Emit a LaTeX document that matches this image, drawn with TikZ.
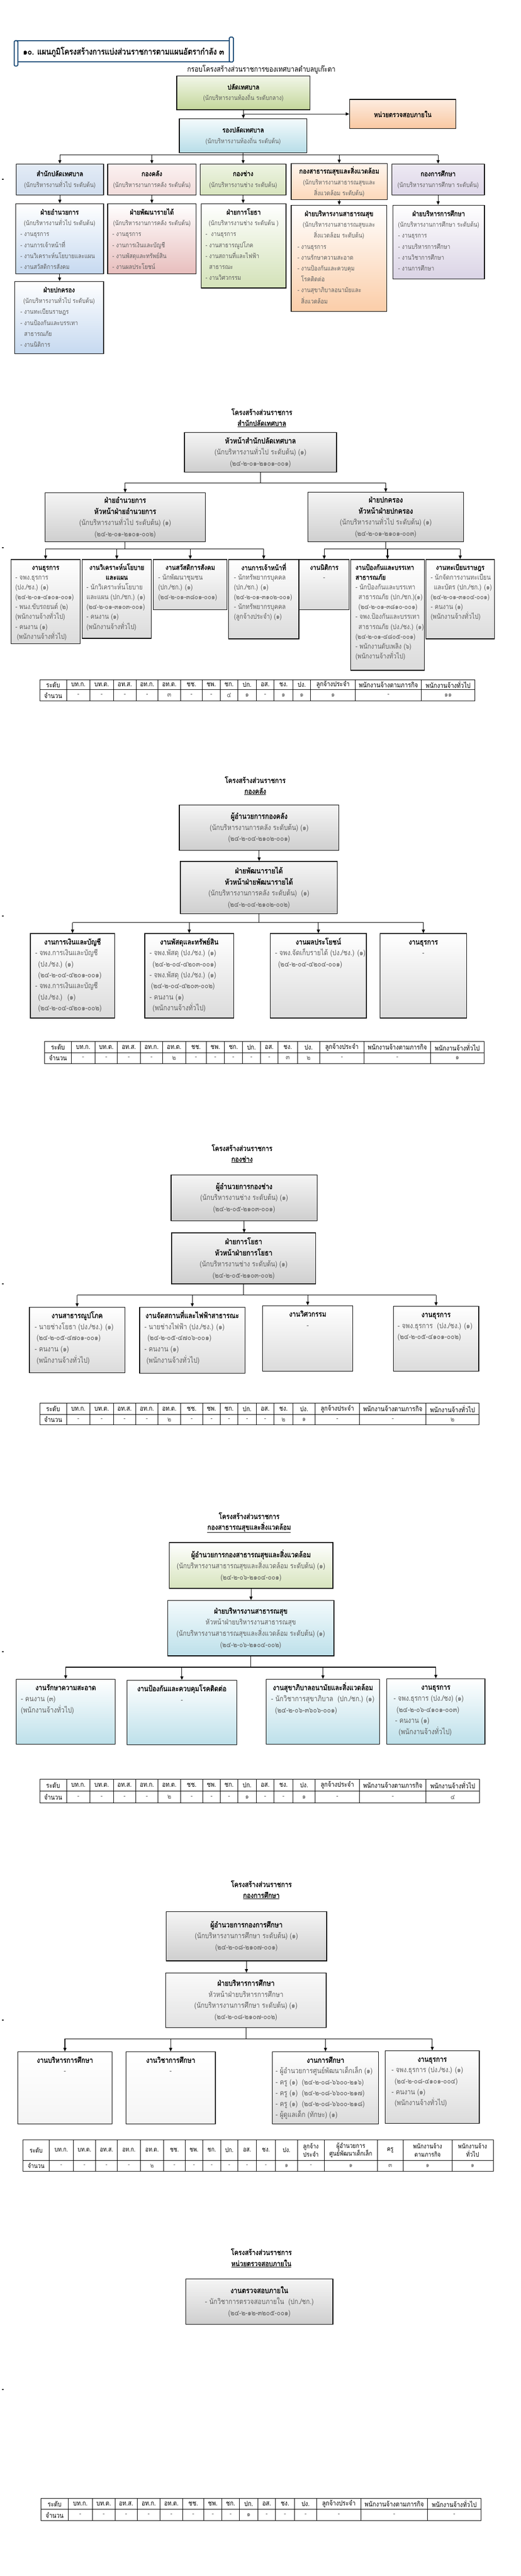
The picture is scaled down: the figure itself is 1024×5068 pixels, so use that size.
\documentclass[tikz,border=0pt]{standalone}
\usepackage{fontspec}
\setmainfont[Script=Thai,FakeStretch=0.85,AutoFakeBold=1.6]{Loma}
\usetikzlibrary{arrows.meta}
\definecolor{tb}{HTML}{1F4E79}
\definecolor{sub}{HTML}{5E5E5E}
\definecolor{plT}{HTML}{F1F6E8}\definecolor{plB}{HTML}{C4D79B}
\definecolor{auT}{HTML}{FDECE0}\definecolor{auB}{HTML}{F9C8A2}
\definecolor{rpT}{HTML}{F3FAFC}\definecolor{rpB}{HTML}{B7DDE8}
\definecolor{k1T}{HTML}{E4ECF6}\definecolor{k1B}{HTML}{D0DDEE}
\definecolor{k2T}{HTML}{FBF1F1}\definecolor{k2B}{HTML}{F2DCDB}
\definecolor{k3T}{HTML}{EEF4E3}\definecolor{k3B}{HTML}{D7E4BD}
\definecolor{k4T}{HTML}{FFF6EE}\definecolor{k4B}{HTML}{FCD8BA}
\definecolor{k5T}{HTML}{EEEAF3}\definecolor{k5B}{HTML}{DDD6E8}
\definecolor{f1B}{HTML}{C6D9F0}
\definecolor{f2B}{HTML}{E8BEBD}
\definecolor{f3B}{HTML}{D3E2B8}
\definecolor{f4B}{HTML}{FBCDA8}
\definecolor{f5B}{HTML}{DAD3E5}
\definecolor{bluB}{HTML}{BDE0EA}
\newdimen\topgap \newdimen\lsk
\def\FS{12}\def\LS{21.5}\def\TS{12}
\newcommand\mkFont[4]{\def\FS{#1}\def\LS{#2}\def\TS{#4}\lsk=#2pt\relax\topgap=\dimexpr#3pt-0.7\lsk\relax}
\newcommand\T[1]{{\fontsize{\TS}{\LS}\selectfont\bfseries\color{black}#1}}
\newcommand\Sb[1]{{\fontsize{\FS}{\LS}\selectfont\mdseries\color{sub}#1}}
\newcommand\mkBox[6]{%
 \pgfmathsetlengthmacro\bw{(#5-#3)*1pt}%
 \pgfmathsetlengthmacro\bh{(#6-#4)*1pt}%
 \node[bx,#2,minimum width=\bw,minimum height=\bh] (#1) at (#3,#4) {};}
\newcommand\mkCB[7]{%
 \pgfmathsetlengthmacro\bw{(#5-#3)*1pt}%
 \pgfmathsetlengthmacro\bh{(#6-#4)*1pt}%
 \node[bx,#2,minimum width=\bw,minimum height=\bh,align=center,font=\fontsize{\FS}{\LS}\selectfont,text=sub] (#1) at (#3,#4) {#7};}
\newcommand\mkTtl[2]{\node[ttl,anchor=north] (#1T) at ([yshift=-\topgap]#1.north) {\strut#2};}
\newcommand\mkBody[4]{\node[bdy,anchor=north west] (#1B) at ([xshift=#2pt,yshift={-\topgap-#3*\lsk}]#1.north west) {\strut#4};}
\newcommand\mkST[4]{\node[sect] (#1a) at (#2,#3) {โครงสร้างส่วนราชการ};
 \node[sect] (#1b) at (#2,{#3+23}) {\underline{#4}};}
\newcommand\mkTable[8]{%
 \draw[tbl] (#3,#5) rectangle (#4,#7);
 \draw[tbl] (#3,#6) -- (#4,#6);
 \foreach \xx in {#2} {\draw[tbl] (\xx,#5) -- (\xx,#7);}
 \foreach \hh/\vv [count=\ii from 0] in {#8} {%
   \pgfmathsetmacro\xa{{#2}[\ii]}%
   \pgfmathsetmacro\xb{{#2}[\ii+1]}%
   \node[thead] (#1h\ii) at ({(\xa+\xb)/2},{(#5+#6)/2}) {\hh};
   \node[tval] (#1v\ii) at ({(\xa+\xb)/2},{(#6+#7)/2}) {\vv};
 }}
\begin{document}
\begin{tikzpicture}[x=1pt,y=-1pt,
 bx/.style={draw=black,line width=1.4pt,inner sep=0pt,anchor=north west},
 ln/.style={line width=1.1pt},
 arr/.style={line width=1.1pt,-{Triangle[width=6pt,length=7pt]}},
 ttl/.style={inner sep=0pt,align=center,font=\fontsize{\TS}{\LS}\selectfont\bfseries,text=black},
 bdy/.style={inner sep=0pt,align=left,font=\fontsize{\FS}{\LS}\selectfont,text=sub},
 sect/.style={inner sep=0pt,font=\fontsize{14.4}{17}\selectfont\bfseries},
 tbl/.style={line width=0.9pt},
 thead/.style={inner sep=0pt,align=center,font=\fontsize{13.5}{15}\selectfont,text=black},
 tval/.style={inner sep=0pt,font=\fontsize{13.5}{15}\selectfont,text=sub},
 hdrgray/.style={top color=gray!8,bottom color=gray!38},
 chgray/.style={top color=white,bottom color=gray!28},
]
\useasboundingbox (0,0) rectangle (1024,5068);
\fill[white] (0,0) rectangle (1024,5068);
\foreach \yy in {352,1076,1801,2525,3249,3973,4700} \fill (4,\yy) rectangle (7,\yy+2);

% ================= SECTION 1 =================
\draw[tb,line width=2pt,fill=white] (34,80) rectangle (451,122);
\draw[tb,line width=2pt,fill=white,rounded corners=2pt] (28,80) rectangle (35,130);
\draw[tb,line width=2pt,fill=white,rounded corners=2pt] (451,73) rectangle (459,122);
\node[anchor=west,inner sep=0pt,font=\fontsize{16.7}{19}\selectfont\bfseries] (maintitle) at (45,102) {๑๐. แผนภูมิโครงสร้างการแบ่งส่วนราชการตามแผนอัตรากำลัง ๓};
\node[inner sep=0pt,font=\fontsize{14.8}{17}\selectfont] (frame) at (514,137) {กรอบโครงสร้างส่วนราชการของเทศบาลตำบลบูเก๊ะตา};

\mkFont{12.7}{21.5}{22}{13.8}
\mkCB{pl}{top color=plT,bottom color=plB}{347}{149}{609}{215}{\T{ปลัดเทศบาล}\\(นักบริหารงานท้องถิ่น ระดับกลาง)}
\mkCB{au}{top color=auT,bottom color=auB}{687}{195}{896}{252}{\T{หน่วยตรวจสอบภายใน}}
\mkCB{rp}{top color=rpT,bottom color=rpB}{352}{233}{603}{300}{\T{รองปลัดเทศบาล}\\(นักบริหารงานท้องถิ่น ระดับต้น)}

\mkCB{k1}{top color=k1T,bottom color=k1B}{31}{322}{203}{383}{\T{สำนักปลัดเทศบาล}\\(นักบริหารงานทั่วไป ระดับต้น)}
\mkCB{k2}{top color=k2T,bottom color=k2B}{211}{322}{385}{383}{\T{กองคลัง}\\(นักบริหารงานการคลัง ระดับต้น)}
\mkCB{k3}{top color=k3T,bottom color=k3B}{393}{322}{562}{383}{\T{กองช่าง}\\(นักบริหารงานช่าง ระดับต้น)}
\mkCB{k4}{top color=k4T,bottom color=k4B}{572}{321}{761}{392}{\T{กองสาธารณสุขและสิ่งแวดล้อม}\\(นักบริหารงานสาธารณสุขและ\\สิ่งแวดล้อม ระดับต้น)}
\mkCB{k5}{top color=k5T,bottom color=k5B}{770}{322}{952}{383}{\T{กองการศึกษา}\\(นักบริหารงานการศึกษา ระดับต้น)}

\mkBox{f1}{top color=white,bottom color=f1B}{30}{400}{203}{538}
\mkTtl{f1}{ฝ่ายอำนวยการ\\\Sb{(นักบริหารงานทั่วไป ระดับต้น)}}
\mkBody{f1}{10}{2}{- งานธุรการ\\- งานการเจ้าหน้าที่\\- งานวิเคราะห์นโยบายและแผน\\- งานสวัสดิการสังคม}
\mkBox{f2}{top color=white,bottom color=f2B}{211}{400}{385}{538}
\mkTtl{f2}{ฝ่ายพัฒนารายได้\\\Sb{(นักบริหารงานการคลัง ระดับต้น)}}
\mkBody{f2}{10}{2}{- งานธุรการ\\- งานการเงินและบัญชี\\- งานพัสดุและทรัพย์สิน\\- งานผลประโยชน์}
\mkBox{f3}{top color=white,bottom color=f3B}{395}{400}{562}{566}
\mkTtl{f3}{ฝ่ายการโยธา\\\Sb{(นักบริหารงานช่าง ระดับต้น )}}
\mkBody{f3}{9}{2}{-~ งานธุรการ\\- งานสาธารณูปโภค\\- งานสถานที่และไฟฟ้า\\\phantom{- }สาธารณะ\\- งานวิศวกรรม}
\mkBox{f4}{top color=white,bottom color=f4B}{572}{403}{760}{612}
\mkTtl{f4}{ฝ่ายบริหารงานสาธารณสุข\\\Sb{(นักบริหารงานสาธารณสุขและ}\\\Sb{สิ่งแวดล้อม ระดับต้น)}}
\mkBody{f4}{13}{3}{- งานธุรการ\\- งานรักษาความสะอาด\\- งานป้องกันและควบคุม\\\phantom{- }โรคติดต่อ\\- งานสุขาภิบาลอนามัยและ\\\phantom{- }สิ่งแวดล้อม}
\mkBox{f5}{top color=white,bottom color=f5B}{772}{403}{952}{548}
\mkTtl{f5}{ฝ่ายบริหารการศึกษา\\\Sb{(นักบริหารงานการศึกษา ระดับต้น)}}
\mkBody{f5}{11}{2}{- งานธุรการ\\- งานบริหารการศึกษา\\- งานวิชาการศึกษา\\- งานการศึกษา}
\mkBox{f6}{top color=white,bottom color=f1B}{28}{553}{203}{695}
\mkTtl{f6}{ฝ่ายปกครอง\\\Sb{(นักบริหารงานทั่วไป ระดับต้น)}}
\mkBody{f6}{12}{2}{- งานทะเบียนราษฎร\\- งานป้องกันและบรรเทา\\\phantom{- }สาธารณภัย\\- งานนิติการ}

\draw[arr] (pl.south) -- (pl.south |- rp.north);
\draw[arr] (pl.south |- au.west) -- (au.west);
\coordinate (bus1) at (0,305);
\draw[ln] (rp.south) -- (rp.south |- bus1);
\draw[ln] (k1.north |- bus1) -- (k5.north |- bus1);
\foreach \n in {k1,k2,k3,k4,k5} \draw[arr] (\n.north |- bus1) -- (\n.north);
\foreach \i in {1,...,5} \draw[arr] (k\i.south) -- (k\i.south |- f\i.north);
\draw[arr] (f1.south) -- (f1.south |- f6.north);

% ================= SECTION 2 =================
\mkST{s2}{515}{810}{สำนักปลัดเทศบาล}
\mkFont{14.5}{22}{22}{15}
\mkCB{hs}{hdrgray}{362}{850}{661}{928}{\T{หัวหน้าสำนักปลัดเทศบาล}\\(นักบริหารงานทั่วไป ระดับต้น) (๑)\\(๒๔-๒-๐๑-๒๑๐๑-๐๐๑)}
\mkCB{fa}{hdrgray}{88}{969}{403}{1065}{\T{ฝ่ายอำนวยการ}\\\T{หัวหน้าฝ่ายอำนวยการ}\\(นักบริหารงานทั่วไป ระดับต้น) (๑)\\(๒๔-๒-๐๑-๒๑๐๑-๐๐๒)}
\mkCB{fp}{hdrgray}{605}{968}{911}{1065}{\T{ฝ่ายปกครอง}\\\T{หัวหน้าฝ่ายปกครอง}\\(นักบริหารงานทั่วไป ระดับต้น) (๑)\\(๒๔-๒-๐๑-๒๑๐๑-๐๐๓)}
\mkFont{13.8}{19.4}{21}{13.8}
\mkBox{c1}{chgray}{21}{1100}{157}{1266}
\mkTtl{c1}{งานธุรการ}
\mkBody{c1}{9}{1}{- จพง.ธุรการ\\(ปง./ชง.) (๑)\\(๒๔-๒-๐๑-๔๑๐๑-๐๐๑)\\- พนง.ขับรถยนต์ (๒)\\(พนักงานจ้างทั่วไป)\\- คนงาน (๑)\\\hspace*{3pt}(พนักงานจ้างทั่วไป)}
\mkBox{c2}{chgray}{161}{1100}{297}{1255}
\mkTtl{c2}{งานวิเคราะห์นโยบาย\\และแผน}
\mkBody{c2}{9}{2}{- นักวิเคราะห์นโยบาย\\และแผน (ปก./ชก.) (๑)\\(๒๔-๒-๐๑-๓๑๐๓-๐๐๑)\\- คนงาน (๑)\\(พนักงานจ้างทั่วไป)}
\mkBox{c3}{chgray}{301}{1100}{446}{1199}
\mkTtl{c3}{งานสวัสดิการสังคม}
\mkBody{c3}{10}{1}{- นักพัฒนาชุมชน\\(ปก./ชก.) (๑)\\(๒๔-๒-๐๑-๓๘๐๑-๐๐๑)}
\mkBox{c4}{chgray}{449}{1100}{587}{1256}
\mkTtl{c4}{งานการเจ้าหน้าที่}
\mkBody{c4}{11}{1}{- นักทรัพยากรบุคคล\\(ปก./ชก.) (๑)\\(๒๔-๒-๐๑-๓๑๐๒-๐๐๑)\\- นักทรัพยากรบุคคล\\(ลูกจ้างประจำ) (๑)}
\mkBox{c5}{chgray}{588}{1100}{686}{1199}
\mkTtl{c5}{งานนิติการ\\\Sb{-}}
\mkBox{c6}{chgray}{689}{1100}{834}{1318}
\mkBody{c6}{10}{0}{\T{งานป้องกันและบรรเทา}\\\T{สาธารณภัย}\\- นักป้องกันและบรรเทา\\\hspace*{6pt}สาธารณภัย (ปก./ชก.)(๑)\\\hspace*{6pt}(๒๔-๒-๐๑-๓๘๑๐-๐๐๑)\\- จพง.ป้องกันและบรรเทา\\\hspace*{6pt}สาธารณภัย (ปง./ชง.) (๑)\\(๒๔-๒-๐๑-๔๘๐๕-๐๐๑)\\- พนักงานดับเพลิง (๖)\\(พนักงานจ้างทั่วไป)}
\mkBox{c7}{chgray}{837}{1100}{972}{1256}
\mkTtl{c7}{งานทะเบียนราษฎร}
\mkBody{c7}{10}{1}{- นักจัดการงานทะเบียน\\\hspace*{6pt}และบัตร (ปก./ชก.) (๑)\\(๒๔-๒-๐๑-๓๑๐๔-๐๐๑)\\- คนงาน (๑)\\(พนักงานจ้างทั่วไป)}

\coordinate (bus2) at (0,950);
\draw[ln] (hs.south) -- (hs.south |- bus2);
\draw[ln] (fa.north |- bus2) -- (fp.north |- bus2);
\draw[arr] (fa.north |- bus2) -- (fa.north);
\draw[arr] (fp.north |- bus2) -- (fp.north);
\coordinate (bus2b) at (0,1080);
\draw[ln] (fa.south) -- (fa.south |- bus2b);
\draw[ln] (c1.north |- bus2b) -- (c4.north |- bus2b);
\foreach \n in {c1,c2,c3,c4} \draw[arr] (\n.north |- bus2b) -- (\n.north);
\draw[ln] (fp.south) -- (fp.south |- bus2b);
\draw[ln] (c5.north |- bus2b) -- (c7.north |- bus2b);
\foreach \n in {c5,c6,c7} \draw[arr] (\n.north |- bus2b) -- (\n.north);

\mkTable{ta}{78,131,177,223,268,311,355,398,433,468,504,539,576,611,699,829,934}{78}{934}{1337}{1357}{1379}{ระดับ/{\color{black}จำนวน},บท.ก./-,บท.ต./-,อท.ส./-,อท.ก./-,อท.ต./๓,ชช./-,ชพ./-,ชก./๔,ปก./๑,อส./-,ชง./๑,ปง./๑,ลูกจ้างประจำ/๑,พนักงานจ้างตามภารกิจ/-,พนักงานจ้างทั่วไป/๑๑}

% ================= SECTION 3 =================
\mkST{s3}{502}{1534}{กองคลัง}
\mkFont{14.5}{22}{22}{15}
\mkCB{d1}{hdrgray}{352}{1583}{666}{1672}{\T{ผู้อำนวยการกองคลัง}\\(นักบริหารงานการคลัง ระดับต้น) (๑)\\(๒๔-๒-๐๔-๒๑๐๒-๐๐๑)}
\mkCB{d2}{hdrgray}{354}{1694}{663}{1797}{\T{ฝ่ายพัฒนารายได้}\\\T{หัวหน้าฝ่ายพัฒนารายได้}\\(นักบริหารงานการคลัง ระดับต้น)~ (๑)\\(๒๔-๒-๐๔-๒๑๐๒-๐๐๒)}
\mkFont{14.7}{21.7}{22}{14.7}
\mkBox{e1}{chgray}{59}{1836}{225}{2002}
\mkTtl{e1}{งานการเงินและบัญชี}
\mkBody{e1}{10}{1}{- จพง.การเงินและบัญชี\\\hspace*{6pt}(ปง./ชง.) (๑)\\\hspace*{6pt}(๒๔-๒-๐๔-๔๒๐๑-๐๐๑)\\- จพง.การเงินและบัญชี\\\hspace*{6pt}(ปง./ชง.)~ (๑)\\\hspace*{6pt}(๒๔-๒-๐๔-๔๒๐๑-๐๐๒)}
\mkBox{e2}{chgray}{284}{1836}{459}{2002}
\mkTtl{e2}{งานพัสดุและทรัพย์สิน}
\mkBody{e2}{10}{1}{- จพง.พัสดุ (ปง./ชง.) (๑)\\\hspace*{6pt}(๒๔-๒-๐๔-๔๒๐๓-๐๐๑)\\- จพง.พัสดุ (ปง./ชง.) (๑)\\\hspace*{3pt}(๒๔-๒-๐๔-๔๒๐๓-๐๐๒)\\- คนงาน (๑)\\\hspace*{6pt}(พนักงานจ้างทั่วไป)}
\mkBox{e3}{chgray}{531}{1836}{720}{2002}
\mkTtl{e3}{งานผลประโยชน์}
\mkBody{e3}{10}{1}{- จพง.จัดเก็บรายได้ (ปง./ชง.) (๑)\\\hspace*{6pt}(๒๔-๒-๐๔-๔๒๐๔-๐๐๑)}
\mkBox{e4}{chgray}{747}{1836}{917}{2002}
\mkTtl{e4}{งานธุรการ\\\Sb{-}}

\draw[arr] (d1.south) -- (d1.south |- d2.north);
\coordinate (bus3) at (0,1815);
\draw[ln] (d2.south) -- (d2.south |- bus3);
\draw[ln] (e1.north |- bus3) -- (e4.north |- bus3);
\foreach \n in {e1,e2,e3,e4} \draw[arr] (\n.north |- bus3) -- (\n.north);

\mkTable{tb3}{88,140,187,231,276,320,365,406,441,477,512,547,585,629,716,847,952}{88}{952}{2049}{2071}{2092}{ระดับ/{\color{black}จำนวน},บท.ก./-,บท.ต./-,อท.ส./-,อท.ก./-,อท.ต./๒,ชช./-,ชพ./-,ชก./-,ปก./-,อส./-,ชง./๓,ปง./๒,ลูกจ้างประจำ/-,พนักงานจ้างตามภารกิจ/-,พนักงานจ้างทั่วไป/๑}

% ================= SECTION 4 =================
\mkST{s4}{476}{2258}{กองช่าง}
\mkFont{14.5}{22}{22}{15}
\mkCB{g1}{hdrgray}{336}{2311}{623}{2401}{\T{ผู้อำนวยการกองช่าง}\\(นักบริหารงานช่าง ระดับต้น) (๑)\\(๒๔-๒-๐๕-๒๑๐๓-๐๐๑)}
\mkCB{g2}{hdrgray}{337}{2425}{620}{2525}{\T{ฝ่ายการโยธา}\\\T{หัวหน้าฝ่ายการโยธา}\\(นักบริหารงานช่าง ระดับต้น) (๑)\\(๒๔-๒-๐๕-๒๑๐๓-๐๐๒)}
\mkFont{14.7}{22}{22}{14.7}
\mkBox{h1}{chgray}{57}{2571}{245}{2700}
\mkTtl{h1}{งานสาธารณูปโภค}
\mkBody{h1}{11}{1}{- นายช่างโยธา (ปง./ชง.) (๑)\\\hspace*{4pt}(๒๔-๒-๐๕-๔๗๐๑-๐๐๑)\\- คนงาน (๑)\\\hspace*{4pt}(พนักงานจ้างทั่วไป)}
\mkBox{h2}{chgray}{274}{2571}{481}{2701}
\mkTtl{h2}{งานจัดสถานที่และไฟฟ้าสาธารณะ}
\mkBody{h2}{10}{1}{- นายช่างไฟฟ้า (ปง./ชง.) (๑)\\\hspace*{6pt}(๒๔-๒-๐๕-๔๗๐๖-๐๐๑)\\- คนงาน (๑)\\\hspace*{4pt}(พนักงานจ้างทั่วไป)}
\mkBox{h3}{chgray}{516}{2568}{693}{2697}
\mkTtl{h3}{งานวิศวกรรม\\\Sb{-}}
\mkBox{h4}{chgray}{773}{2569}{941}{2697}
\mkTtl{h4}{งานธุรการ}
\mkBody{h4}{9}{1}{- จพง.ธุรการ~ (ปง./ชง.) (๑)\\(๒๔-๒-๐๕-๔๑๐๑-๐๐๒)}

\draw[arr] (g1.south) -- (g1.south |- g2.north);
\coordinate (bus4) at (0,2548);
\draw[ln] (g2.south) -- (g2.south |- bus4);
\draw[ln] (h1.north |- bus4) -- (h4.north |- bus4);
\foreach \n in {h1,h2,h3,h4} \draw[arr] (\n.north |- bus4) -- (\n.north);

\mkTable{tc}{78,131,177,223,267,311,355,399,433,468,504,539,576,620,707,838,942}{78}{942}{2760}{2783}{2803}{ระดับ/{\color{black}จำนวน},บท.ก./-,บท.ต./-,อท.ส./-,อท.ก./-,อท.ต./๒,ชช./-,ชพ./-,ชก./-,ปก./-,อส./-,ชง./๒,ปง./๑,ลูกจ้างประจำ/-,พนักงานจ้างตามภารกิจ/-,พนักงานจ้างทั่วไป/๒}

% ================= SECTION 5 =================
\mkST{s5}{490}{2982}{กองสาธารณสุขและสิ่งแวดล้อม}
\mkFont{14.3}{22}{22}{14.8}
\mkCB{m1}{top color=white,bottom color=k3B}{332}{3034}{654}{3124}{\T{ผู้อำนวยการกองสาธารณสุขและสิ่งแวดล้อม}\\(นักบริหารงานสาธารณสุขและสิ่งแวดล้อม ระดับต้น) (๑)\\(๒๔-๒-๐๖-๒๑๐๔-๐๐๑)}
\mkCB{m2}{top color=rpT,bottom color=bluB}{329}{3148}{656}{3257}{\T{ฝ่ายบริหารงานสาธารณสุข}\\หัวหน้าฝ่ายบริหารงานสาธารณสุข\\(นักบริหารงานสาธารณสุขและสิ่งแวดล้อม ระดับต้น) (๑)\\(๒๔-๒-๐๖-๒๑๐๔-๐๐๒)}
\mkFont{14.7}{22}{22}{14.7}
\mkBox{n1}{top color=white,bottom color=bluB}{31}{3303}{226}{3431}
\mkTtl{n1}{งานรักษาความสะอาด}
\mkBody{n1}{10}{1}{- คนงาน (๓)\\(พนักงานจ้างทั่วไป)}
\mkBox{n2}{top color=white,bottom color=bluB}{249}{3305}{465}{3432}
\mkTtl{n2}{งานป้องกันและควบคุมโรคติดต่อ\\\Sb{-}}
\mkBox{n3}{top color=white,bottom color=bluB}{523}{3303}{746}{3431}
\mkTtl{n3}{งานสุขาภิบาลอนามัยและสิ่งแวดล้อม}
\mkBody{n3}{10}{1}{- นักวิชาการสุขาภิบาล~ (ปก./ชก.) (๑)\\\hspace*{8pt}(๒๔-๒-๐๖-๓๖๐๖-๐๐๑)}
\mkBox{n4}{top color=white,bottom color=bluB}{760}{3302}{953}{3431}
\mkTtl{n4}{งานธุรการ}
\mkBody{n4}{14}{1}{- จพง.ธุรการ (ปง./ชง) (๑)\\\hspace*{6pt}(๒๔-๒-๐๖-๔๑๐๑-๐๐๓)\\\hspace*{3pt}- คนงาน (๑)\\\hspace*{10pt}(พนักงานจ้างทั่วไป)}

\draw[arr] (m1.south) -- (m1.south |- m2.north);
\coordinate (bus5) at (0,3280);
\draw[ln] (m2.south) -- (m2.south |- bus5);
\draw[ln] (n1.north |- bus5) -- (n4.north |- bus5);
\foreach \n in {n1,n2,n3,n4} \draw[arr] (\n.north |- bus5) -- (\n.north);

\mkTable{td}{78,131,177,223,267,311,355,399,433,468,504,539,576,620,707,838,943}{78}{943}{3500}{3524}{3547}{ระดับ/{\color{black}จำนวน},บท.ก./-,บท.ต./-,อท.ส./-,อท.ก./-,อท.ต./๒,ชช./-,ชพ./-,ชก./-,ปก./๑,อส./-,ชง./-,ปง./๑,ลูกจ้างประจำ/-,พนักงานจ้างตามภารกิจ/-,พนักงานจ้างทั่วไป/๔}

% ================= SECTION 6 =================
\mkST{s6}{514}{3706}{กองการศึกษา}
\mkFont{14.5}{22}{22}{15}
\mkCB{p1}{hdrgray}{326}{3760}{642}{3857}{\T{ผู้อำนวยการกองการศึกษา}\\(นักบริหารงานการศึกษา ระดับต้น) (๑)\\(๒๔-๒-๐๘-๒๑๐๗-๐๐๑)}
\mkCB{p2}{top color=gray!4,bottom color=gray!22}{325}{3881}{641}{3988}{\T{ฝ่ายบริหารการศึกษา}\\หัวหน้าฝ่ายบริหารการศึกษา\\(นักบริหารงานการศึกษา ระดับต้น) (๑)\\(๒๔-๒-๐๘-๒๑๐๗-๐๐๒)}
\mkFont{14.5}{21.4}{22}{14.7}
\mkBox{q1}{top color=white,bottom color=gray!8}{34}{4036}{220}{4178}
\mkTtl{q1}{งานบริหารการศึกษา\\\Sb{-}}
\mkBox{q2}{top color=white,bottom color=gray!8}{247}{4036}{423}{4178}
\mkTtl{q2}{งานวิชาการศึกษา\\\Sb{-}}
\mkBox{q3}{chgray}{535}{4036}{744}{4178}
\mkTtl{q3}{งานการศึกษา}
\mkBody{q3}{7}{1}{- ผู้อำนวยการศูนย์พัฒนาเด็กเล็ก (๑)\\- ครู (๑)~ (๒๔-๒-๐๘-๖๖๐๐-๒๑๖)\\- ครู (๑)~ (๒๔-๒-๐๘-๖๖๐๐-๒๑๗)\\- ครู (๑)~ (๒๔-๒-๐๘-๖๖๐๐-๒๑๘)\\- ผู้ดูแลเด็ก (ทักษะ) (๑)}
\mkBox{q4}{chgray}{757}{4034}{942}{4177}
\mkTtl{q4}{งานธุรการ}
\mkBody{q4}{13}{1}{- จพง.ธุรการ (ปง./ชง.) (๑)\\\hspace*{6pt}(๒๔-๒-๐๘-๔๑๐๑-๐๐๔)\\- คนงาน (๑)\\\hspace*{6pt}(พนักงานจ้างทั่วไป)}

\draw[arr] (p1.south) -- (p1.south |- p2.north);
\coordinate (bus6) at (0,4011);
\draw[ln] (p2.south) -- (p2.south |- bus6);
\draw[ln] (q1.north |- bus6) -- (q4.north |- bus6);
\foreach \n in {q1,q2,q3,q4} \draw[arr] (\n.north |- bus6) -- (\n.north);

\begin{scope}[thead/.append style={font=\fontsize{12.6}{15.5}\selectfont},tval/.append style={font=\fontsize{12.6}{15.5}\selectfont}]
\mkTable{te}{45,97,144,188,231,276,322,364,399,434,468,504,542,585,638,742,793,889,970}{45}{970}{4210}{4250}{4272}{ระดับ/{\color{black}จำนวน},บท.ก./-,บท.ต./-,อท.ส./-,อท.ก./-,อท.ต./๒,ชช./-,ชพ./-,ชก./-,ปก./-,อส./-,ชง./-,ปง./๑,{ลูกจ้าง\\ประจำ}/-,{ผู้อำนวยการ\\ศูนย์พัฒนาเด็กเล็ก}/๑,ครู/๓,{พนักงานจ้าง\\ตามภารกิจ}/๑,{พนักงานจ้าง\\ทั่วไป}/๑}
\end{scope}

% ================= SECTION 7 =================
\mkST{s7}{514}{4430}{หน่วยตรวจสอบภายใน}
\mkFont{14.5}{22}{22}{15}
\mkCB{r1}{hdrgray}{365}{4483}{654}{4572}{\T{งานตรวจสอบภายใน}\\- นักวิชาการตรวจสอบภายใน~ (ปก./ชก.)\\(๒๔-๒-๑๒-๓๒๐๕-๐๐๑)}

\mkTable{tf}{81,134,182,226,270,315,359,401,436,471,507,542,579,623,710,841,946}{81}{946}{4915}{4937}{4959}{ระดับ/{\color{black}จำนวน},บท.ก./-,บท.ต./-,อท.ส./-,อท.ก./-,อท.ต./-,ชช./-,ชพ./-,ชก./-,ปก./๑,อส./-,ชง./-,ปง./-,ลูกจ้างประจำ/-,พนักงานจ้างตามภารกิจ/-,พนักงานจ้างทั่วไป/-}
\end{tikzpicture}
\end{document}
